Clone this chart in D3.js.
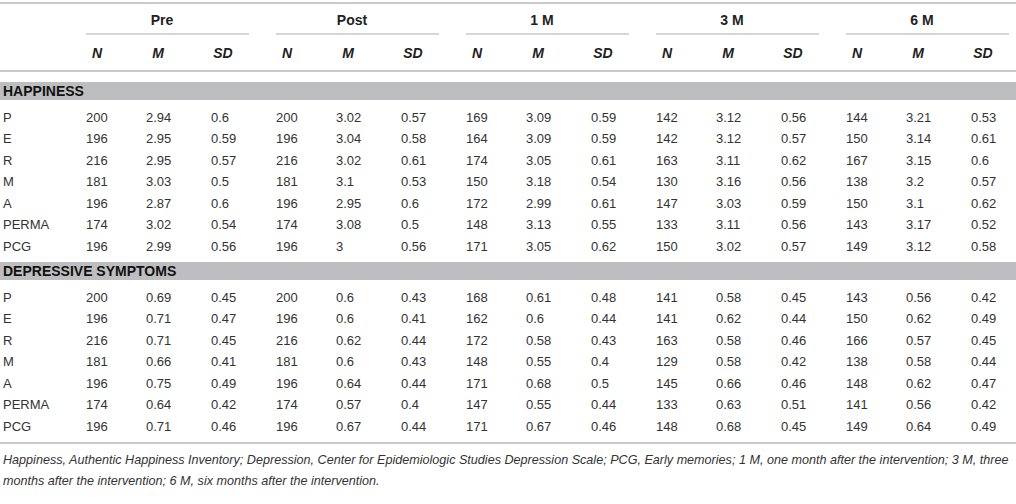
<!DOCTYPE html>
<html>
<head>
<meta charset="utf-8">
<script src="https://cdn.jsdelivr.net/npm/d3@7"></script>
<style>
  body { margin: 0; background: #fff; }
  svg { display: block; font-family: "Liberation Sans", Arial, sans-serif; }
</style>
</head>
<body>
<svg></svg>
<script>
// table data
var groups = ["Pre", "Post", "1 M", "3 M", "6 M"]
var stats = ["N", "M", "SD"]
var rowLabels = ["P", "E", "R", "M", "A", "PERMA", "PCG"]
var sections = ["HAPPINESS", "DEPRESSIVE SYMPTOMS"]

// each row: N, M, SD for Pre, Post, 1 M, 3 M, 6 M
var happiness = [
  [200, 2.94, 0.6, 200, 3.02, 0.57, 169, 3.09, 0.59, 142, 3.12, 0.56, 144, 3.21, 0.53],
  [196, 2.95, 0.59, 196, 3.04, 0.58, 164, 3.09, 0.59, 142, 3.12, 0.57, 150, 3.14, 0.61],
  [216, 2.95, 0.57, 216, 3.02, 0.61, 174, 3.05, 0.61, 163, 3.11, 0.62, 167, 3.15, 0.6],
  [181, 3.03, 0.5, 181, 3.1, 0.53, 150, 3.18, 0.54, 130, 3.16, 0.56, 138, 3.2, 0.57],
  [196, 2.87, 0.6, 196, 2.95, 0.6, 172, 2.99, 0.61, 147, 3.03, 0.59, 150, 3.1, 0.62],
  [174, 3.02, 0.54, 174, 3.08, 0.5, 148, 3.13, 0.55, 133, 3.11, 0.56, 143, 3.17, 0.52],
  [196, 2.99, 0.56, 196, 3, 0.56, 171, 3.05, 0.62, 150, 3.02, 0.57, 149, 3.12, 0.58]
]
var depressive = [
  [200, 0.69, 0.45, 200, 0.6, 0.43, 168, 0.61, 0.48, 141, 0.58, 0.45, 143, 0.56, 0.42],
  [196, 0.71, 0.47, 196, 0.6, 0.41, 162, 0.6, 0.44, 141, 0.62, 0.44, 150, 0.62, 0.49],
  [216, 0.71, 0.45, 216, 0.62, 0.44, 172, 0.58, 0.43, 163, 0.58, 0.46, 166, 0.57, 0.45],
  [181, 0.66, 0.41, 181, 0.6, 0.43, 148, 0.55, 0.4, 129, 0.58, 0.42, 138, 0.58, 0.44],
  [196, 0.75, 0.49, 196, 0.64, 0.44, 171, 0.68, 0.5, 145, 0.66, 0.46, 148, 0.62, 0.47],
  [174, 0.64, 0.42, 174, 0.57, 0.4, 147, 0.55, 0.44, 133, 0.63, 0.51, 141, 0.56, 0.42],
  [196, 0.71, 0.46, 196, 0.67, 0.44, 171, 0.67, 0.46, 148, 0.68, 0.45, 149, 0.64, 0.49]
]
var footnote = [
  "Happiness, Authentic Happiness Inventory; Depression, Center for Epidemiologic Studies Depression Scale; PCG, Early memories; 1 M, one month after the intervention; 3 M, three",
  "months after the intervention; 6 M, six months after the intervention."
]

var width = 1016
var height = 504
var svg = d3.select('svg').attr('width', width).attr('height', height)

var lineColor = '#c9c9c9'
var textColor = '#333'

// column positions
var groupX = d3.scaleBand().domain(groups).range([86, 1036])
var statX = d3.scaleOrdinal().domain(stats).range([0, 60, 125])
function colX(i) {
  return groupX(groups[Math.floor(i / 3)]) + statX(stats[i % 3])
}

// vertical positions
var sectionY = d3.scaleOrdinal().domain(sections).range([82, 262])
var rowY = d3.scalePoint().domain(rowLabels).range([0, 129])
var bandHeight = 18

function hline(y, x1, x2, w) {
  svg.append('line')
    .attr('x1', x1).attr('x2', x2)
    .attr('y1', y).attr('y2', y)
    .attr('stroke', lineColor)
    .attr('stroke-width', w)
}

hline(3, 0, width, 2)
hline(71, 0, width, 2)
hline(443, 0, width, 2)

// group headers
var head = svg.append('g').attr('class', 'header')
head.selectAll('text.group')
  .data(groups)
  .enter().append('text')
  .attr('class', 'group')
  .attr('x', function(g) { return groupX(g) + 76 })
  .attr('y', 20)
  .attr('dy', '0.35em')
  .attr('text-anchor', 'middle')
  .attr('font-size', 14)
  .attr('font-weight', 'bold')
  .attr('fill', '#222')
  .text(function(g) { return g })
groups.forEach(function(g) {
  hline(34, groupX(g), groupX(g) + 163, 1.5)
})

// sub headers N / M / SD
var subs = d3.range(groups.length * stats.length)
head.selectAll('text.stat')
  .data(subs)
  .enter().append('text')
  .attr('class', 'stat')
  .attr('x', function(i) { return colX(i) + (i % 3 === 0 ? 11 : 12) })
  .attr('y', 53)
  .attr('dy', '0.35em')
  .attr('text-anchor', 'middle')
  .attr('font-size', 14)
  .attr('font-weight', 'bold')
  .attr('font-style', 'italic')
  .attr('fill', '#222')
  .text(function(i) { return stats[i % 3] })

// sections
var sectionData = [happiness, depressive]
sections.forEach(function(name, s) {
  var top = sectionY(name)
  var g = svg.append('g').attr('class', 'section')
  g.append('rect')
    .attr('x', 0).attr('y', top)
    .attr('width', width).attr('height', bandHeight)
    .attr('fill', '#bdbec0')
  g.append('text')
    .attr('x', 3)
    .attr('y', top + bandHeight / 2)
    .attr('dy', '0.35em')
    .attr('font-size', 14)
    .attr('font-weight', 'bold')
    .attr('fill', '#111')
    .text(name)

  var rows = g.selectAll('g.row')
    .data(sectionData[s])
    .enter().append('g')
    .attr('class', 'row')
    .attr('transform', function(d, i) {
      return 'translate(0,' + (top + 35 + rowY(rowLabels[i])) + ')'
    })
  rows.append('text')
    .attr('x', 3)
    .attr('dy', '0.35em')
    .attr('font-size', 13)
    .attr('fill', textColor)
    .text(function(d, i) { return rowLabels[i] })
  rows.selectAll('text.val')
    .data(function(d) { return d })
    .enter().append('text')
    .attr('class', 'val')
    .attr('x', function(v, i) { return colX(i) })
    .attr('dy', '0.35em')
    .attr('font-size', 13)
    .attr('fill', textColor)
    .text(function(v) { return String(v) })
})

// footnote
svg.append('g')
  .selectAll('text')
  .data(footnote)
  .enter().append('text')
  .attr('x', 3)
  .attr('y', function(d, i) { return 460 + i * 21 })
  .attr('dy', '0.35em')
  .attr('font-size', 12.6)
  .attr('font-style', 'italic')
  .attr('fill', textColor)
  .text(function(d) { return d })
</script>
</body>
</html>
